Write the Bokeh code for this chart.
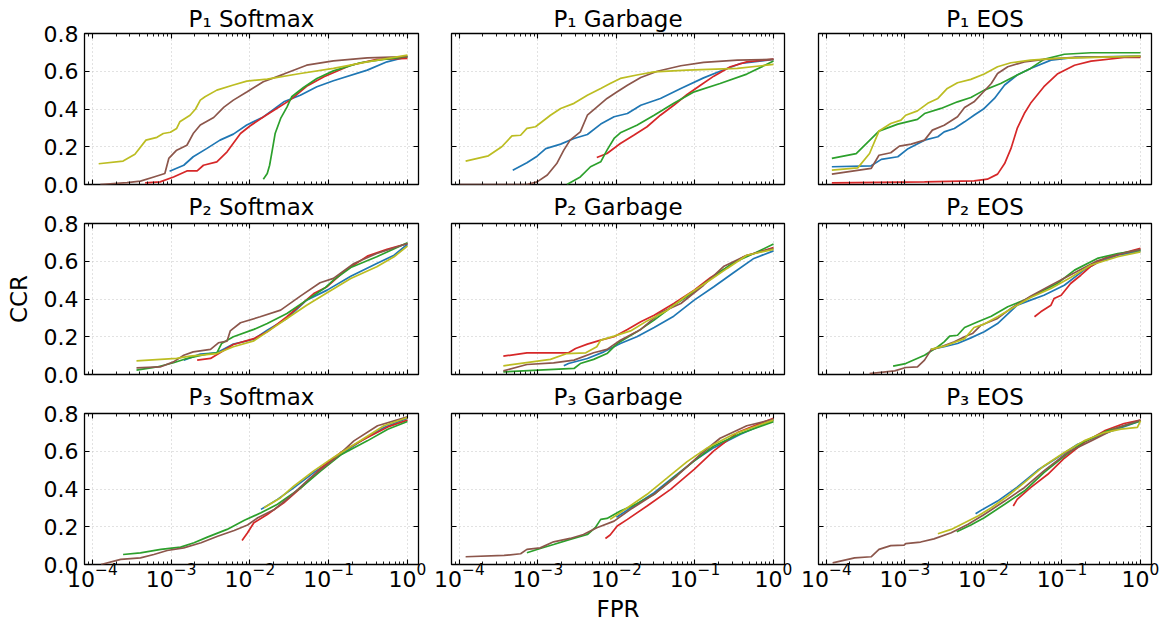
from bokeh.plotting import figure
from bokeh.layouts import column, row
from bokeh.models import (Range1d, LogAxis, LinearAxis, FixedTicker, PrintfTickFormatter,
                          CustomJSTickFormatter)
from bokeh.embed import file_html
from bokeh.resources import INLINE

# ---------------- data (log10 FPR, CCR) ----------------
# P1 Softmax
p1s_blue_lf = [-3.02, -2.84, -2.72, -2.55, -2.38, -2.21, -2.04, -1.83, -1.57, -1.36, -1.15, -0.94, -0.51, -0.26, 0.0]
p1s_blue_ccr = [0.07, 0.102, 0.147, 0.19, 0.235, 0.267, 0.315, 0.358, 0.438, 0.473, 0.518, 0.55, 0.606, 0.65, 0.677]
p1s_red_lf = [-3.33, -3.14, -2.97, -2.80, -2.67, -2.59, -2.42, -2.29, -2.12, -2.00, -1.83, -1.66, -1.49, -1.28, -1.06, -0.72, -0.39, 0.0]
p1s_red_ccr = [0.009, 0.014, 0.04, 0.072, 0.072, 0.102, 0.12, 0.173, 0.27, 0.31, 0.358, 0.403, 0.447, 0.52, 0.571, 0.632, 0.663, 0.668]
p1s_green_lf = [-1.83, -1.78, -1.75, -1.72, -1.68, -1.61, -1.53, -1.47, -1.32, -1.15, -0.94, -0.60, -0.30, 0.0]
p1s_green_ccr = [0.028, 0.058, 0.102, 0.173, 0.27, 0.35, 0.41, 0.465, 0.514, 0.562, 0.602, 0.645, 0.663, 0.677]
p1s_brown_lf = [-3.9, -3.56, -3.39, -3.22, -3.08, -3.03, -2.93, -2.80, -2.72, -2.63, -2.46, -2.33, -2.21, -2.04, -1.83, -1.57, -1.28, -0.94, -0.51, 0.0]
p1s_brown_ccr = [0.0, 0.01, 0.018, 0.04, 0.058, 0.138, 0.182, 0.208, 0.27, 0.315, 0.355, 0.41, 0.447, 0.49, 0.544, 0.585, 0.632, 0.655, 0.671, 0.677]
p1s_olive_lf = [-3.92, -3.61, -3.46, -3.32, -3.18, -3.10, -3.01, -2.93, -2.89, -2.76, -2.69, -2.63, -2.57, -2.42, -2.21, -2.04, -1.78, -1.36, -0.94, -0.51, 0.0]
p1s_olive_ccr = [0.11, 0.124, 0.16, 0.235, 0.25, 0.27, 0.277, 0.297, 0.332, 0.367, 0.40, 0.447, 0.465, 0.50, 0.527, 0.548, 0.558, 0.588, 0.615, 0.65, 0.685]

# P1 Garbage
p1g_blue_lf = [-3.32, -3.14, -3.01, -2.90, -2.71, -2.54, -2.37, -2.20, -2.03, -1.86, -1.69, -1.44, -1.18, -0.89, -0.68, -0.42, 0.0]
p1g_blue_ccr = [0.076, 0.115, 0.15, 0.19, 0.214, 0.244, 0.265, 0.32, 0.359, 0.376, 0.42, 0.456, 0.509, 0.565, 0.60, 0.641, 0.663]
p1g_red_lf = [-2.25, -2.12, -1.95, -1.78, -1.61, -1.44, -1.27, -1.10, -0.93, -0.76, -0.55, -0.34, 0.0]
p1g_red_ccr = [0.143, 0.164, 0.217, 0.261, 0.306, 0.367, 0.42, 0.477, 0.526, 0.574, 0.624, 0.65, 0.664]
p1g_green_lf = [-2.63, -2.46, -2.33, -2.20, -2.12, -2.03, -1.95, -1.74, -1.52, -1.27, -1.01, -0.68, -0.34, 0.0]
p1g_green_ccr = [0.0, 0.04, 0.094, 0.12, 0.182, 0.244, 0.274, 0.314, 0.367, 0.43, 0.491, 0.535, 0.585, 0.654]
p1g_brown_lf = [-4.0, -3.14, -3.01, -2.88, -2.76, -2.67, -2.59, -2.46, -2.37, -2.25, -2.12, -1.99, -1.86, -1.69, -1.48, -1.18, -0.89, -0.46, 0.0]
p1g_brown_ccr = [0.0, 0.0, 0.014, 0.05, 0.111, 0.182, 0.235, 0.279, 0.367, 0.41, 0.456, 0.491, 0.526, 0.567, 0.60, 0.629, 0.647, 0.659, 0.663]
p1g_olive_lf = [-3.92, -3.63, -3.46, -3.33, -3.22, -3.14, -3.03, -2.84, -2.71, -2.54, -2.37, -2.20, -2.08, -1.95, -1.74, -1.52, -1.10, -0.46, 0.0]
p1g_olive_ccr = [0.124, 0.152, 0.2, 0.258, 0.261, 0.297, 0.306, 0.367, 0.403, 0.43, 0.473, 0.509, 0.535, 0.562, 0.58, 0.597, 0.606, 0.615, 0.636]

# P1 EOS
p1e_blue_lf = [-3.93, -3.43, -3.30, -3.09, -2.96, -2.75, -2.58, -2.50, -2.37, -2.24, -2.12, -1.99, -1.86, -1.73, -1.57, -1.40, -1.14, -0.84, 0.0]
p1e_blue_ccr = [0.094, 0.099, 0.133, 0.147, 0.19, 0.235, 0.253, 0.279, 0.297, 0.332, 0.367, 0.403, 0.456, 0.527, 0.58, 0.615, 0.659, 0.673, 0.68]
p1e_red_lf = [-3.93, -2.75, -2.12, -1.95, -1.82, -1.73, -1.65, -1.57, -1.48, -1.40, -1.23, -1.06, -0.84, -0.63, -0.21, 0.0]
p1e_red_ccr = [0.009, 0.014, 0.019, 0.028, 0.055, 0.111, 0.19, 0.297, 0.376, 0.43, 0.518, 0.585, 0.632, 0.654, 0.673, 0.673]
p1e_green_lf = [-3.93, -3.62, -3.33, -3.09, -2.84, -2.75, -2.54, -2.33, -2.16, -1.99, -1.78, -1.57, -1.40, -1.23, -0.97, -0.63, 0.0]
p1e_green_ccr = [0.138, 0.164, 0.283, 0.32, 0.345, 0.376, 0.403, 0.438, 0.461, 0.50, 0.535, 0.58, 0.615, 0.663, 0.69, 0.698, 0.698]
p1e_brown_lf = [-3.93, -3.43, -3.33, -3.18, -3.07, -2.92, -2.75, -2.65, -2.50, -2.33, -2.24, -2.12, -2.01, -1.90, -1.82, -1.69, -1.48, -1.23, -0.84, 0.0]
p1e_brown_ccr = [0.055, 0.085, 0.155, 0.168, 0.203, 0.214, 0.235, 0.288, 0.314, 0.359, 0.408, 0.438, 0.486, 0.535, 0.588, 0.624, 0.65, 0.663, 0.673, 0.677]
p1e_olive_lf = [-3.93, -3.60, -3.45, -3.33, -3.18, -3.05, -2.99, -2.84, -2.71, -2.58, -2.46, -2.33, -2.16, -1.99, -1.82, -1.65, -1.40, -1.06, 0.0]
p1e_olive_ccr = [0.076, 0.088, 0.164, 0.283, 0.323, 0.341, 0.367, 0.39, 0.43, 0.456, 0.509, 0.539, 0.557, 0.585, 0.624, 0.645, 0.659, 0.668, 0.68]

# P2 Softmax
p2s_blue_lf = [-2.84, -2.63, -2.42, -2.21, -1.95, -1.78, -1.53, -1.28, -1.02, -0.72, -0.39, -0.17, 0.0]
p2s_blue_ccr = [0.076, 0.108, 0.115, 0.161, 0.187, 0.235, 0.297, 0.394, 0.447, 0.521, 0.588, 0.632, 0.69]
p2s_red_lf = [-2.67, -2.50, -2.38, -2.21, -1.95, -1.78, -1.53, -1.36, -1.19, -1.02, -0.81, -0.51, -0.26, 0.0]
p2s_red_ccr = [0.076, 0.085, 0.115, 0.159, 0.19, 0.226, 0.306, 0.367, 0.429, 0.465, 0.544, 0.627, 0.663, 0.694]
p2s_green_lf = [-3.44, -3.18, -2.97, -2.80, -2.55, -2.42, -2.36, -2.21, -1.95, -1.78, -1.53, -1.28, -1.04, -0.94, -0.72, -0.39, 0.0]
p2s_green_ccr = [0.023, 0.04, 0.062, 0.085, 0.108, 0.115, 0.164, 0.2, 0.239, 0.27, 0.323, 0.394, 0.461, 0.50, 0.567, 0.624, 0.698]
p2s_brown_lf = [-3.44, -3.14, -2.97, -2.84, -2.72, -2.50, -2.40, -2.29, -2.25, -2.12, -1.87, -1.61, -1.36, -1.11, -0.94, -0.68, -0.39, 0.0]
p2s_brown_ccr = [0.035, 0.04, 0.067, 0.102, 0.12, 0.133, 0.168, 0.177, 0.231, 0.274, 0.306, 0.341, 0.415, 0.486, 0.509, 0.588, 0.641, 0.694]
p2s_olive_lf = [-3.44, -2.93, -2.76, -2.42, -2.21, -1.95, -1.78, -1.53, -1.28, -1.02, -0.72, -0.39, -0.17, 0.0]
p2s_olive_ccr = [0.072, 0.085, 0.097, 0.111, 0.147, 0.178, 0.226, 0.297, 0.367, 0.433, 0.509, 0.571, 0.624, 0.68]

# P2 Garbage
p2g_blue_lf = [-2.67, -2.61, -2.37, -2.16, -1.95, -1.74, -1.52, -1.27, -1.01, -0.76, -0.51, -0.25, 0.0]
p2g_blue_ccr = [0.046, 0.058, 0.085, 0.12, 0.164, 0.2, 0.249, 0.309, 0.394, 0.465, 0.539, 0.615, 0.655]
p2g_red_lf = [-3.44, -3.14, -2.61, -2.52, -2.37, -2.20, -2.03, -1.86, -1.69, -1.52, -1.27, -1.01, -0.80, -0.59, -0.38, 0.0]
p2g_red_ccr = [0.097, 0.115, 0.115, 0.138, 0.161, 0.182, 0.2, 0.239, 0.279, 0.314, 0.376, 0.447, 0.514, 0.567, 0.624, 0.673]
p2g_green_lf = [-3.44, -2.54, -2.46, -2.29, -2.12, -1.99, -1.74, -1.52, -1.27, -1.01, -0.76, -0.51, -0.25, 0.0]
p2g_green_ccr = [0.014, 0.032, 0.058, 0.08, 0.111, 0.164, 0.226, 0.288, 0.367, 0.438, 0.521, 0.592, 0.641, 0.691]
p2g_brown_lf = [-3.44, -3.14, -2.80, -2.54, -2.29, -2.12, -1.95, -1.69, -1.44, -1.18, -0.89, -0.63, -0.34, 0.0]
p2g_brown_ccr = [0.019, 0.053, 0.062, 0.076, 0.115, 0.133, 0.182, 0.239, 0.327, 0.376, 0.473, 0.574, 0.632, 0.668]
p2g_olive_lf = [-3.44, -2.84, -2.63, -2.39, -2.25, -2.20, -2.03, -1.82, -1.61, -1.35, -1.10, -0.84, -0.59, -0.34, 0.0]
p2g_olive_ccr = [0.046, 0.08, 0.111, 0.115, 0.147, 0.182, 0.203, 0.231, 0.284, 0.341, 0.42, 0.491, 0.562, 0.632, 0.663]

# P2 EOS
p2e_blue_lf = [-2.67, -2.50, -2.33, -2.16, -1.99, -1.82, -1.57, -1.40, -1.23, -0.97, -0.72, -0.55, -0.29, 0.0]
p2e_blue_ccr = [0.133, 0.147, 0.164, 0.194, 0.226, 0.27, 0.367, 0.394, 0.42, 0.473, 0.553, 0.592, 0.632, 0.654]
p2e_red_lf = [-1.35, -1.27, -1.14, -1.10, -1.01, -0.89, -0.76, -0.63, -0.46, -0.21, 0.0]
p2e_red_ccr = [0.306, 0.332, 0.367, 0.403, 0.42, 0.482, 0.526, 0.574, 0.615, 0.645, 0.668]
p2e_green_lf = [-3.15, -2.99, -2.75, -2.58, -2.50, -2.43, -2.33, -2.24, -2.07, -1.90, -1.69, -1.48, -1.23, -1.06, -0.84, -0.55, -0.29, 0.0]
p2e_green_ccr = [0.044, 0.058, 0.102, 0.147, 0.173, 0.203, 0.208, 0.249, 0.279, 0.309, 0.359, 0.394, 0.447, 0.482, 0.553, 0.615, 0.641, 0.659]
p2e_brown_lf = [-3.45, -3.13, -2.99, -2.84, -2.75, -2.67, -2.54, -2.37, -2.24, -2.14, -2.03, -1.82, -1.65, -1.40, -1.14, -0.84, -0.55, -0.29, 0.0]
p2e_brown_ccr = [0.005, 0.019, 0.037, 0.04, 0.076, 0.129, 0.147, 0.173, 0.2, 0.217, 0.261, 0.297, 0.35, 0.415, 0.473, 0.539, 0.602, 0.636, 0.663]
p2e_olive_lf = [-2.67, -2.50, -2.24, -2.12, -1.99, -1.82, -1.57, -1.40, -1.14, -0.89, -0.63, -0.29, 0.0]
p2e_olive_ccr = [0.133, 0.15, 0.19, 0.249, 0.267, 0.306, 0.367, 0.408, 0.456, 0.514, 0.58, 0.624, 0.65]

# P3 Softmax
p3s_blue_lf = [-1.86, -1.65, -1.44, -1.19, -0.93, -0.59, -0.30, 0.0]
p3s_blue_ccr = [0.292, 0.345, 0.407, 0.487, 0.558, 0.655, 0.726, 0.775]
p3s_red_lf = [-2.10, -2.03, -1.95, -1.78, -1.57, -1.35, -1.10, -0.85, -0.51, -0.25, 0.0]
p3s_red_ccr = [0.127, 0.168, 0.221, 0.265, 0.327, 0.407, 0.51, 0.593, 0.673, 0.729, 0.765]
p3s_green_lf = [-3.61, -3.39, -3.13, -2.88, -2.71, -2.54, -2.29, -2.07, -1.86, -1.65, -1.35, -1.10, -0.85, -0.51, -0.25, 0.0]
p3s_green_ccr = [0.053, 0.062, 0.08, 0.092, 0.115, 0.145, 0.186, 0.234, 0.274, 0.319, 0.407, 0.496, 0.58, 0.655, 0.717, 0.758]
p3s_brown_lf = [-3.89, -3.64, -3.39, -3.22, -3.05, -2.84, -2.62, -2.41, -2.20, -2.03, -1.90, -1.69, -1.48, -1.23, -0.93, -0.68, -0.38, 0.0]
p3s_brown_ccr = [0.0, 0.027, 0.035, 0.053, 0.074, 0.088, 0.115, 0.15, 0.18, 0.209, 0.248, 0.292, 0.363, 0.46, 0.558, 0.655, 0.735, 0.782]
p3s_olive_lf = [-1.82, -1.61, -1.44, -1.19, -0.93, -0.59, -0.30, 0.0]
p3s_olive_ccr = [0.301, 0.354, 0.416, 0.496, 0.57, 0.658, 0.735, 0.779]

# P3 Garbage
p3g_blue_lf = [-2.0, -1.78, -1.52, -1.27, -1.01, -0.76, -0.42, 0.0]
p3g_blue_ccr = [0.25, 0.31, 0.38, 0.464, 0.549, 0.619, 0.69, 0.765]
p3g_red_lf = [-2.14, -2.08, -1.99, -1.86, -1.61, -1.31, -1.01, -0.76, -0.46, 0.0]
p3g_red_ccr = [0.138, 0.156, 0.204, 0.239, 0.31, 0.398, 0.504, 0.602, 0.699, 0.775]
p3g_green_lf = [-3.14, -2.97, -2.80, -2.59, -2.37, -2.27, -2.20, -2.12, -1.95, -1.74, -1.52, -1.27, -1.01, -0.76, -0.42, 0.0]
p3g_green_ccr = [0.062, 0.085, 0.106, 0.133, 0.159, 0.195, 0.239, 0.244, 0.283, 0.322, 0.372, 0.46, 0.549, 0.628, 0.694, 0.757]
p3g_brown_lf = [-3.92, -3.43, -3.22, -3.14, -2.97, -2.80, -2.59, -2.42, -2.25, -2.03, -1.82, -1.52, -1.23, -0.93, -0.68, -0.34, 0.0]
p3g_brown_ccr = [0.041, 0.048, 0.057, 0.08, 0.088, 0.12, 0.138, 0.159, 0.195, 0.23, 0.292, 0.372, 0.469, 0.584, 0.669, 0.735, 0.77]
p3g_olive_lf = [-2.08, -1.86, -1.61, -1.35, -1.10, -0.84, -0.51, 0.0]
p3g_olive_ccr = [0.239, 0.301, 0.372, 0.46, 0.545, 0.619, 0.69, 0.765]

# P3 EOS
p3e_blue_lf = [-2.10, -2.01, -1.82, -1.57, -1.31, -1.06, -0.80, -0.42, 0.0]
p3e_blue_ccr = [0.269, 0.292, 0.336, 0.41, 0.499, 0.566, 0.637, 0.699, 0.761]
p3e_red_lf = [-1.62, -1.57, -1.40, -1.18, -0.97, -0.72, -0.46, -0.21, 0.0]
p3e_red_ccr = [0.31, 0.345, 0.407, 0.478, 0.563, 0.646, 0.708, 0.747, 0.765]
p3e_green_lf = [-2.34, -2.16, -1.99, -1.73, -1.48, -1.23, -0.97, -0.72, -0.42, 0.0]
p3e_green_ccr = [0.173, 0.209, 0.248, 0.319, 0.389, 0.487, 0.575, 0.651, 0.708, 0.761]
p3e_brown_lf = [-3.92, -3.64, -3.43, -3.33, -3.18, -3.01, -2.99, -2.80, -2.63, -2.41, -2.20, -1.99, -1.73, -1.48, -1.23, -0.93, -0.63, -0.29, 0.0]
p3e_brown_ccr = [0.009, 0.035, 0.041, 0.08, 0.1, 0.103, 0.111, 0.119, 0.136, 0.168, 0.212, 0.265, 0.336, 0.407, 0.496, 0.593, 0.655, 0.726, 0.765]
p3e_olive_lf = [-2.58, -2.41, -2.24, -2.07, -1.90, -1.69, -1.48, -1.23, -0.97, -0.72, -0.46, -0.25, -0.04, 0.0]
p3e_olive_ccr = [0.163, 0.186, 0.221, 0.257, 0.301, 0.363, 0.434, 0.522, 0.593, 0.655, 0.699, 0.717, 0.726, 0.761]

panel_titles = [["P₁ Softmax", "P₁ Garbage", "P₁ EOS"],
                ["P₂ Softmax", "P₂ Garbage", "P₂ EOS"],
                ["P₃ Softmax", "P₃ Garbage", "P₃ EOS"]]
y_ticks = [0.0, 0.2, 0.4, 0.6, 0.8]
x_ticks = [1e-4, 1e-3, 1e-2, 1e-1, 1e0]

panel_data = {
    (0, 0): [(p1s_blue_lf, p1s_blue_ccr), (p1s_red_lf, p1s_red_ccr), (p1s_green_lf, p1s_green_ccr), (p1s_brown_lf, p1s_brown_ccr), (p1s_olive_lf, p1s_olive_ccr)],
    (0, 1): [(p1g_blue_lf, p1g_blue_ccr), (p1g_red_lf, p1g_red_ccr), (p1g_green_lf, p1g_green_ccr), (p1g_brown_lf, p1g_brown_ccr), (p1g_olive_lf, p1g_olive_ccr)],
    (0, 2): [(p1e_blue_lf, p1e_blue_ccr), (p1e_red_lf, p1e_red_ccr), (p1e_green_lf, p1e_green_ccr), (p1e_brown_lf, p1e_brown_ccr), (p1e_olive_lf, p1e_olive_ccr)],
    (1, 0): [(p2s_blue_lf, p2s_blue_ccr), (p2s_red_lf, p2s_red_ccr), (p2s_green_lf, p2s_green_ccr), (p2s_brown_lf, p2s_brown_ccr), (p2s_olive_lf, p2s_olive_ccr)],
    (1, 1): [(p2g_blue_lf, p2g_blue_ccr), (p2g_red_lf, p2g_red_ccr), (p2g_green_lf, p2g_green_ccr), (p2g_brown_lf, p2g_brown_ccr), (p2g_olive_lf, p2g_olive_ccr)],
    (1, 2): [(p2e_blue_lf, p2e_blue_ccr), (p2e_red_lf, p2e_red_ccr), (p2e_green_lf, p2e_green_ccr), (p2e_brown_lf, p2e_brown_ccr), (p2e_olive_lf, p2e_olive_ccr)],
    (2, 0): [(p3s_blue_lf, p3s_blue_ccr), (p3s_red_lf, p3s_red_ccr), (p3s_green_lf, p3s_green_ccr), (p3s_brown_lf, p3s_brown_ccr), (p3s_olive_lf, p3s_olive_ccr)],
    (2, 1): [(p3g_blue_lf, p3g_blue_ccr), (p3g_red_lf, p3g_red_ccr), (p3g_green_lf, p3g_green_ccr), (p3g_brown_lf, p3g_brown_ccr), (p3g_olive_lf, p3g_olive_ccr)],
    (2, 2): [(p3e_blue_lf, p3e_blue_ccr), (p3e_red_lf, p3e_red_ccr), (p3e_green_lf, p3e_green_ccr), (p3e_brown_lf, p3e_brown_ccr), (p3e_olive_lf, p3e_olive_ccr)],
}

# ---------------- styling ----------------
COLORS = ["#1f77b4", "#d62728", "#2ca02c", "#8c564b", "#bcbd22"]
FONT = "DejaVu Sans"
col_widths = [432, 365, 364]
col_left = [84, 19, 21]
col_right = [14, 13, 10]
row_heights = [197, 199, 249]
row_top = [33, 35, 35]
row_bottom = [13, 13, 63]
row_margin_top = [0, -9, -9]
title_standoff = [3, 7, 7]

minor = [m * 10.0 ** e for e in range(-5, 1) for m in range(2, 10)]


def style_axis(ax, show_labels, minor_ticks, standoff=3):
    ax.axis_line_color = None
    ax.major_tick_in = 5
    ax.major_tick_out = 0
    ax.minor_tick_in = 3 if minor_ticks else 0
    ax.minor_tick_out = 0
    ax.major_tick_line_color = "black"
    ax.minor_tick_line_color = "black"
    ax.major_tick_line_width = 1.1
    ax.minor_tick_line_width = 0.9
    ax.major_label_text_font = FONT
    ax.major_label_text_color = "black"
    if show_labels:
        ax.major_label_text_font_size = "22px"
        ax.major_label_standoff = standoff
    else:
        ax.formatter = CustomJSTickFormatter(code="return ' ';")
        ax.major_label_text_font_size = "1px"
        ax.major_label_text_alpha = 0.0
        ax.major_label_standoff = 0


rows = []
for r in range(3):
    figs = []
    for c in range(3):
        p = figure(width=col_widths[c], height=row_heights[r],
                   x_axis_type="log",
                   x_range=Range1d(10 ** -4.1, 10 ** 0.14),
                   y_range=Range1d(0.0, 0.8),
                   output_backend="svg", toolbar_location=None,
                   min_border_left=col_left[c], min_border_right=col_right[c],
                   min_border_top=row_top[r], min_border_bottom=row_bottom[r])
        p.title.text = panel_titles[r][c]
        p.title.align = "center"
        p.title.text_font = FONT
        p.title.text_font_size = "23px"
        p.title.text_font_style = "normal"
        p.title.text_color = "black"
        p.title.standoff = title_standoff[r]
        p.title.text_line_height = 1.0
        p.outline_line_color = "black"
        p.outline_line_width = 1.3
        p.background_fill_color = "white"
        p.border_fill_color = None

        bx = p.xaxis[0]
        bx.ticker = FixedTicker(ticks=x_ticks, minor_ticks=minor)
        style_axis(bx, r == 2, True, standoff=-2)
        ly = p.yaxis[0]
        ly.ticker = FixedTicker(ticks=y_ticks)
        if c == 0:
            ly.formatter = PrintfTickFormatter(format="%.1f")
        style_axis(ly, c == 0, False, standoff=6)

        tx = LogAxis(ticker=FixedTicker(ticks=x_ticks, minor_ticks=minor))
        style_axis(tx, False, True)
        p.add_layout(tx, "above")
        ry = LinearAxis(ticker=FixedTicker(ticks=y_ticks))
        style_axis(ry, False, False)
        p.add_layout(ry, "right")

        p.xgrid.ticker = FixedTicker(ticks=x_ticks)
        p.ygrid.ticker = FixedTicker(ticks=y_ticks)
        p.grid.grid_line_color = "#c4c4c4"
        p.grid.grid_line_dash = "1 3"
        p.grid.grid_line_width = 1.0

        if r == 1 and c == 0:
            ly.axis_label = "CCR"
            ly.axis_label_text_font = FONT
            ly.axis_label_text_font_size = "23px"
            ly.axis_label_text_font_style = "normal"
            ly.axis_label_text_color = "black"
            ly.axis_label_standoff = 9
        if r == 2 and c == 1:
            bx.axis_label = "FPR"
            bx.axis_label_text_font = FONT
            bx.axis_label_text_font_size = "23px"
            bx.axis_label_text_font_style = "normal"
            bx.axis_label_text_color = "black"
            bx.axis_label_standoff = 6

        for (lf, ccr), color in zip(panel_data[(r, c)], COLORS):
            xs = [10.0 ** v for v in lf]
            p.line(xs, ccr, line_color=color, line_width=1.7)
        figs.append(p)
    rows.append(row(figs, spacing=0, margin=(row_margin_top[r], 0, 0, 0)))

layout = column(rows, spacing=0)
open("out.html", "w").write(file_html(layout, INLINE))
